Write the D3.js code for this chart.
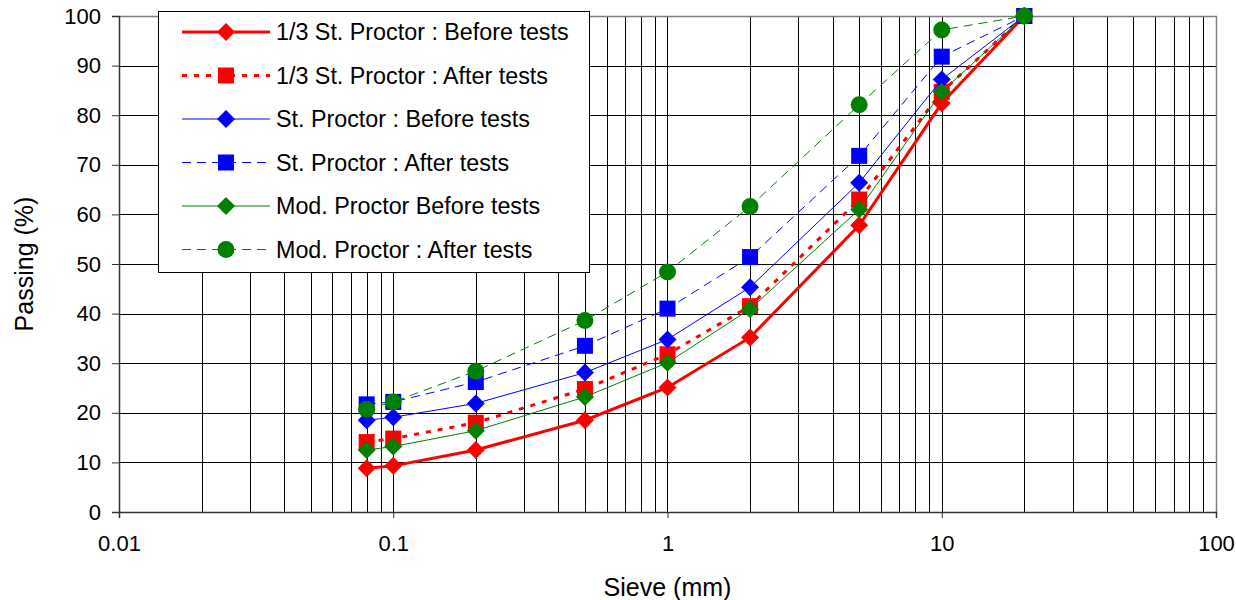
<!DOCTYPE html>
<html lang="en">
<head>
<meta charset="UTF-8">
<title>Sieve curves</title>
<style>
    body { margin: 0; background: #fff; font-family: Arial, "Liberation Sans", sans-serif; }
    svg text { font-family: Arial, "Liberation Sans", sans-serif; fill: #000; }
</style>
</head>
<body>
<div id="chart"></div>
<script src="https://d3js.org/d3.v7.min.js"></script>
<script>
// sieve sizes (mm)
const sieve = [0.08, 0.1, 0.2, 0.5, 1, 2, 5, 10, 20];

// passing (%)
const thirdBefore = [8.8, 9.3, 12.5, 18.5, 25.1, 35.2, 57.8, 82.4, 100];
const thirdAfter  = [14.1, 14.8, 18.0, 24.8, 31.8, 41.5, 63.0, 84.7, 100];
const stdBefore   = [18.5, 19.1, 21.9, 28.1, 34.8, 45.3, 66.4, 87.2, 100];
const stdAfter    = [21.7, 22.2, 26.2, 33.5, 41.0, 51.4, 71.8, 91.8, 100];
const modBefore   = [12.5, 13.2, 16.4, 23.2, 30.1, 40.9, 61.0, 84.7, 100];
const modAfter    = [20.7, 22.2, 28.4, 38.6, 48.4, 61.6, 82.1, 97.2, 100];

const seriesNames = [
    "1/3 St. Proctor : Before tests",
    "1/3 St. Proctor : After tests",
    "St. Proctor : Before tests",
    "St. Proctor : After tests",
    "Mod. Proctor Before tests",
    "Mod. Proctor : After tests"
];

const xTicks = [0.01, 0.1, 1, 10, 100];
const yTicks = [0, 10, 20, 30, 40, 50, 60, 70, 80, 90, 100];

const styles = [
    { color: "#ff0000", width: 3, dash: null, marker: "diamond" },
    { color: "#ff0000", width: 3, dash: "5,7", marker: "square" },
    { color: "#0000ff", width: 1, dash: null, marker: "diamond" },
    { color: "#0000ff", width: 1, dash: "9,6", marker: "square" },
    { color: "#008000", width: 1, dash: null, marker: "diamond" },
    { color: "#008000", width: 1, dash: "9,6", marker: "circle" }
];
const values = [thirdBefore, thirdAfter, stdBefore, stdAfter, modBefore, modAfter];

const W = 1236, H = 600;
const pLeft = 119, pRight = 1216, pTop = 16, pBottom = 512;

const svg = d3.select("#chart").append("svg")
    .attr("width", W).attr("height", H);

const x = d3.scaleLog().domain([0.01, 100]).range([pLeft, pRight]);
const y = d3.scaleLinear().domain([0, 100]).range([pBottom, pTop]);

// grid lines
const minor = [];
for (let k = -2; k <= 1; k++) {
    for (let i = 1; i <= 9; i++) minor.push(i * Math.pow(10, k));
}

const grid = svg.append("g").attr("shape-rendering", "crispEdges");
grid.selectAll(".vg").data(minor.filter(v => v > 0.011)).enter()
    .append("line")
    .attr("x1", d => Math.round(x(d)) + 0.5).attr("x2", d => Math.round(x(d)) + 0.5)
    .attr("y1", pTop).attr("y2", pBottom)
    .attr("stroke", "#000").attr("stroke-width", 1);
grid.selectAll(".hg").data(yTicks.filter(v => v > 0 && v < 100)).enter()
    .append("line")
    .attr("x1", pLeft).attr("x2", pRight)
    .attr("y1", d => Math.round(y(d)) + 0.5).attr("y2", d => Math.round(y(d)) + 0.5)
    .attr("stroke", "#000").attr("stroke-width", 1);

// plot border (top / right)
svg.append("path")
    .attr("d", `M${pLeft},${pTop + 0.5}H${pRight + 0.5}V${pBottom}`)
    .attr("fill", "none").attr("stroke", "#808080").attr("stroke-width", 1.5);

// axes
const xAxis = svg.append("g")
    .attr("transform", `translate(0,${pBottom})`)
    .call(d3.axisBottom(x).tickValues(xTicks).tickFormat(d => String(d)).tickSize(6).tickPadding(17));
const yAxis = svg.append("g")
    .attr("transform", `translate(${pLeft},0)`)
    .call(d3.axisLeft(y).tickValues(yTicks).tickSize(7).tickPadding(11));
[xAxis, yAxis].forEach(a => {
    a.select(".domain").attr("stroke", "#333").attr("stroke-width", 1.5);
    a.selectAll(".tick line").attr("stroke", "#333");
    a.selectAll("text").style("font-size", "22px");
});

svg.append("text")
    .attr("x", x(1)).attr("y", 596)
    .attr("text-anchor", "middle").style("font-size", "25px")
    .text("Sieve (mm)");
svg.append("text")
    .attr("transform", `translate(33,${(pTop + pBottom) / 2}) rotate(-90)`)
    .attr("text-anchor", "middle").style("font-size", "25px")
    .text("Passing (%)");

// markers
function drawMarker(g, type, color, cx, cy) {
    if (type === "diamond") {
        const r = 9;
        g.append("path")
            .attr("d", `M${cx},${cy - r}L${cx + r},${cy}L${cx},${cy + r}L${cx - r},${cy}Z`)
            .attr("fill", color);
    } else if (type === "square") {
        const s = 16;
        g.append("rect")
            .attr("x", cx - s / 2).attr("y", cy - s / 2)
            .attr("width", s).attr("height", s)
            .attr("fill", color);
    } else {
        g.append("circle").attr("cx", cx).attr("cy", cy).attr("r", 8.5).attr("fill", color);
    }
}

const line = d3.line().x(d => x(d[0])).y(d => y(d[1]));

values.forEach((vals, i) => {
    const st = styles[i];
    const pts = sieve.map((s, j) => [s, vals[j]]);
    const g = svg.append("g");
    g.append("path")
        .attr("d", line(pts))
        .attr("fill", "none")
        .attr("stroke", st.color)
        .attr("stroke-width", st.width)
        .attr("stroke-dasharray", st.dash);
    pts.forEach(p => drawMarker(g, st.marker, st.color, x(p[0]), y(p[1])));
});

// legend
const lg = svg.append("g");
lg.append("rect")
    .attr("x", 158.5).attr("y", 11.5).attr("width", 431).attr("height", 261)
    .attr("fill", "#fff").attr("stroke", "#000").attr("stroke-width", 1);
seriesNames.forEach((name, i) => {
    const st = styles[i];
    const cy = 32 + i * 43.5;
    lg.append("line")
        .attr("x1", 182).attr("x2", 270).attr("y1", cy).attr("y2", cy)
        .attr("stroke", st.color).attr("stroke-width", st.width)
        .attr("stroke-dasharray", st.dash);
    drawMarker(lg, st.marker, st.color, 226, cy);
    lg.append("text")
        .attr("x", 276).attr("y", cy).attr("dy", "0.36em")
        .style("font-size", "23.3px")
        .text(name);
});
</script>
</body>
</html>
